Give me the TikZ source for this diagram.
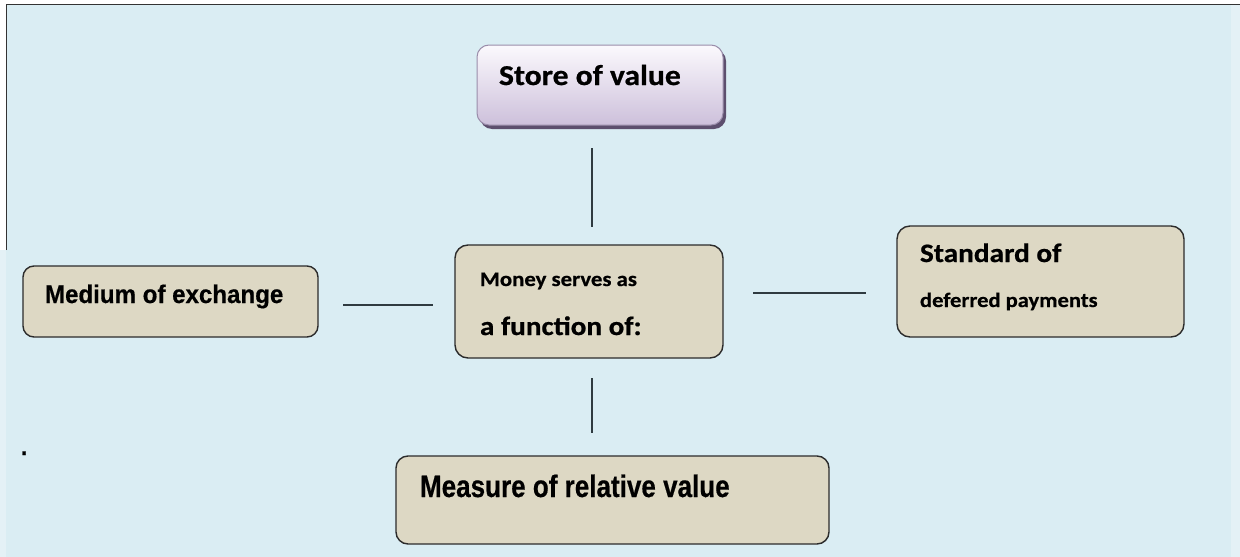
\documentclass[tikz,border=0pt]{standalone}
\usepackage{fontspec}
\newfontfamily\calfont[FakeStretch=1.1,FakeBold=0.7]{Carlito}
\newfontfamily\arfontA[FakeStretch=0.945,FakeBold=0.5]{Liberation Sans}
\newfontfamily\arfontB[FakeStretch=0.84,FakeBold=0.5]{Liberation Sans}
\definecolor{bgblue}{HTML}{DAEDF3}
\definecolor{bgedge}{HTML}{E4F1F6}
\definecolor{beige}{HTML}{DDD8C4}
\definecolor{boxline}{HTML}{2B2B2B}
\definecolor{lavtop}{HTML}{FBF9FD}
\definecolor{lavbot}{HTML}{CDC0DB}
\definecolor{lavline}{HTML}{9A8DAA}
\definecolor{lavshadow}{HTML}{5D4F6E}
\definecolor{linkcol}{HTML}{2F3B40}
\tikzset{
  fbox/.style={draw=boxline, line width=1.4pt, fill=beige, rounded corners=13pt, inner sep=0pt},
  topbox/.style={draw=lavline, line width=1pt, top color=lavtop, bottom color=lavbot, rounded corners=12pt, inner sep=0pt},
  txt/.style={anchor=base west, inner sep=0pt, outer sep=0pt},
  link/.style={draw=linkcol, line width=1.6pt}
}
\begin{document}
\begin{tikzpicture}[x=1pt, y=-1pt]
  % page and panel background
  \useasboundingbox (0,0) rectangle (1240,557);
  \fill[white] (0,0) rectangle (1240,557);
  \fill[bgedge] (0,250) rectangle (6,557);
  \fill[bgblue] (6,4) rectangle (1231,557);
  \fill[bgedge] (1231,4) rectangle (1240,557);
  \draw[black!80, line width=1pt] (6,250) -- (6,4) -- (1240,4);

  % shadow under the top box
  \fill[lavshadow, rounded corners=12pt] (480,49) rectangle (726,129);

  % boxes
  \node[topbox, minimum width=246pt, minimum height=80pt] (store) at (600,85) {};
  \node[fbox, minimum width=268pt, minimum height=113pt] (center) at (589,301.5) {};
  \node[fbox, rounded corners=11pt, minimum width=295pt, minimum height=71pt] (medium) at (170.5,301.5) {};
  \node[fbox, minimum width=287pt, minimum height=111pt] (standard) at (1040.5,281.5) {};
  \node[fbox, rounded corners=12pt, minimum width=433pt, minimum height=88pt] (measure) at (612.5,500) {};

  % labels
  \node[txt] (storeT) at (499,85) {\calfont\bfseries\fontsize{28.8}{30}\selectfont Store of value};
  \node[txt] (centerA) at (480,286) {\calfont\bfseries\fontsize{20.7}{22}\selectfont Money serves as};
  \node[txt] (centerB) at (480,335) {\calfont\bfseries\fontsize{26.5}{28}\selectfont a function of:};
  \node[txt] (standardA) at (920,262) {\calfont\bfseries\fontsize{26.6}{28}\selectfont Standard of};
  \node[txt] (standardB) at (920,307) {\calfont\bfseries\fontsize{20.5}{22}\selectfont deferred payments};
  \node[txt] (mediumT) at (45,303) {\arfontA\bfseries\fontsize{25.5}{27}\selectfont Medium of exchange};
  \node[txt] (measureT) at (420,497) {\arfontB\bfseries\fontsize{31}{33}\selectfont Measure of relative value};
  \node[txt] (dot) at (21,455) {\arfontA\bfseries\fontsize{24}{26}\selectfont .};

  % connector end points
  \coordinate (up1) at (592,148);
  \coordinate (up2) at (592,227);
  \coordinate (dn1) at (592,378);
  \coordinate (dn2) at (592,433);
  \coordinate (lf1) at (343,305);
  \coordinate (lf2) at (433,305);
  \coordinate (rt1) at (753,293);
  \coordinate (rt2) at (866,293);

  % connectors
  \draw[link] (up1) -- (up2);
  \draw[link] (dn1) -- (dn2);
  \draw[link] (lf1) -- (lf2);
  \draw[link] (rt1) -- (rt2);
\end{tikzpicture}
\end{document}
